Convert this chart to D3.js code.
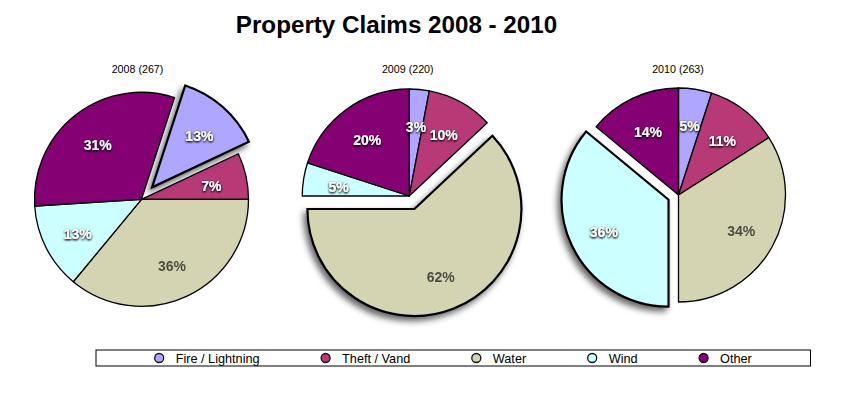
<!DOCTYPE html>
<html><head><meta charset="utf-8">
<script src="https://cdn.jsdelivr.net/npm/d3@7/dist/d3.min.js"></script>
<style>body{margin:0;background:#fff}text{font-family:"Liberation Sans",Arial,Helvetica,sans-serif}</style>
</head><body><svg id="c" width="866" height="394"></svg>
<script>
// ---- data ----
const categories = ["Fire / Lightning", "Theft / Vand", "Water", "Wind", "Other"];
const colors = ["#aea6ff", "#b73a77", "#d4d4b2", "#ccffff", "#840073"];
const years = ["2008", "2009", "2010"];
const totals = [267, 220, 263];
const values2008 = [13, 7, 36, 13, 31];
const values2009 = [3, 10, 62, 5, 20];
const values2010 = [5, 11, 34, 36, 14];
const explodedCategory = ["Fire / Lightning", "Water", "Wind"];
const darkLabelCategories = ["Water"];
const startDeg = [18, 0, 0];
const title = "Property Claims 2008 - 2010";

const seriesByYear = [values2008, values2009, values2010];

const W = 866, H = 394;
const svg = d3.select("#c");
svg.append("rect").attr("width", W).attr("height", H).attr("fill", "#fff");

const defs = svg.append("defs");
const sh = defs.append("filter").attr("id", "sliceShadow")
  .attr("x", "-30%").attr("y", "-30%").attr("width", "160%").attr("height", "160%");
sh.append("feGaussianBlur").attr("in", "SourceAlpha").attr("stdDeviation", 3.2).attr("result", "b");
sh.append("feOffset").attr("in", "b").attr("dx", -3).attr("dy", 4).attr("result", "o");
sh.append("feFlood").attr("flood-color", "#000").attr("flood-opacity", 0.6).attr("result", "f");
sh.append("feComposite").attr("in", "f").attr("in2", "o").attr("operator", "in").attr("result", "s");
const m1 = sh.append("feMerge");
m1.append("feMergeNode").attr("in", "s");
m1.append("feMergeNode").attr("in", "SourceGraphic");

const ts = defs.append("filter").attr("id", "textShadow")
  .attr("x", "-30%").attr("y", "-50%").attr("width", "160%").attr("height", "200%");
ts.append("feGaussianBlur").attr("in", "SourceAlpha").attr("stdDeviation", 1.3).attr("result", "b");
ts.append("feOffset").attr("in", "b").attr("dx", 0).attr("dy", 1).attr("result", "o");
ts.append("feFlood").attr("flood-color", "#000").attr("flood-opacity", 0.8).attr("result", "f");
ts.append("feComposite").attr("in", "f").attr("in2", "o").attr("operator", "in").attr("result", "s");
const m2 = ts.append("feMerge");
m2.append("feMergeNode").attr("in", "s");
m2.append("feMergeNode").attr("in", "s");
m2.append("feMergeNode").attr("in", "SourceGraphic");

const tb = defs.append("filter").attr("id", "textBlur")
  .attr("x", "-30%").attr("y", "-50%").attr("width", "160%").attr("height", "200%");
tb.append("feGaussianBlur").attr("in", "SourceGraphic").attr("stdDeviation", 0.7);

const color = d3.scaleOrdinal().domain(categories).range(colors);

// title
svg.append("text").attr("x", 396.5).attr("y", 33).attr("text-anchor", "middle")
  .attr("font-size", 24.2).attr("font-weight", "bold").attr("fill", "#000").text(title);

const cellX = d3.scalePoint().domain(years).range([137.5, 678]);
const pieDx = [4, 1.5, 0.5];
const pieCy = [199.3, 196, 195];
const explodeBy = [16, 14, 11];
const R = 107;
const labelR = 71.5;

const arc = d3.arc().innerRadius(0).outerRadius(R);
const labelArc = d3.arc().innerRadius(labelR).outerRadius(labelR);

years.forEach((yr, i) => {
  const data = categories.map((c, j) => ({cat: c, value: seriesByYear[i][j]}));
  const a0 = startDeg[i] * Math.PI / 180;
  const pie = d3.pie().sort(null).value(d => d.value).startAngle(a0).endAngle(a0 + 2 * Math.PI);
  const arcs = pie(data);
  const cx = cellX(yr) + pieDx[i], cy = pieCy[i];

  svg.append("text").attr("x", cellX(yr)).attr("y", 73.3).attr("text-anchor", "middle")
    .attr("font-size", 10.7).attr("fill", "#000").text(`${yr} (${totals[i]})`);

  const g = svg.append("g").attr("transform", `translate(${cx},${cy})`);
  const offset = d => {
    if (d.data.cat !== explodedCategory[i]) return [0, 0];
    const mid = (d.startAngle + d.endAngle) / 2;
    return [Math.sin(mid) * explodeBy[i], -Math.cos(mid) * explodeBy[i]];
  };
  const normal = arcs.filter(d => d.data.cat !== explodedCategory[i]);
  const exp = arcs.filter(d => d.data.cat === explodedCategory[i]);

  g.selectAll("path.n").data(normal).join("path").attr("class", "n")
    .attr("d", arc).attr("fill", d => color(d.data.cat))
    .attr("stroke", "#000").attr("stroke-width", 1.3).attr("stroke-linejoin", "round");

  g.selectAll("path.e").data(exp).join("path").attr("class", "e")
    .attr("transform", d => `translate(${offset(d)})`)
    .attr("d", arc).attr("fill", d => color(d.data.cat))
    .attr("stroke", "#000").attr("stroke-width", 2.2).attr("stroke-linejoin", "miter")
    .attr("filter", "url(#sliceShadow)");

  g.selectAll("text.l").data(arcs).join("text").attr("class", "l")
    .attr("transform", d => {
      const c = labelArc.centroid(d), o = offset(d);
      return `translate(${c[0] + o[0]},${c[1] + o[1]})`;
    })
    .attr("text-anchor", "middle").attr("dy", "0.5em")
    .attr("font-size", 14).attr("font-weight", "bold")
    .attr("fill", d => darkLabelCategories.includes(d.data.cat) ? "#4e4e42" : "#fff")
    .attr("filter", d => darkLabelCategories.includes(d.data.cat) ? "url(#textBlur)" : "url(#textShadow)")
    .text(d => d.data.value + "%");
});

// legend
const lg = svg.append("g");
lg.append("rect").attr("x", 96).attr("y", 350).attr("width", 714.5).attr("height", 16)
  .attr("fill", "#fff").attr("stroke", "#000").attr("stroke-width", 1);
const items = lg.selectAll("g.it").data(categories).join("g").attr("class", "it");
items.append("circle").attr("r", 4.5).attr("cy", 358).attr("fill", d => color(d))
  .attr("stroke", "#111").attr("stroke-width", 1.3);
items.append("text").attr("y", 362.5).attr("font-size", 12.7).attr("fill", "#000").text(d => d);
const gapText = 16.5, gapItem = 66;
const widths = [];
items.select("text").each(function () { widths.push(this.getComputedTextLength()); });
let total = 4.5;
widths.forEach((w, k) => { total += gapText + w + (k < widths.length - 1 ? gapItem : 0); });
let x = 96 + 714.5 / 2 - total / 2 + 4.5;
items.each(function (d, k) {
  const s = d3.select(this);
  s.select("circle").attr("cx", x);
  s.select("text").attr("x", x + gapText);
  x += gapText + widths[k] + gapItem;
});
</script></body></html>
